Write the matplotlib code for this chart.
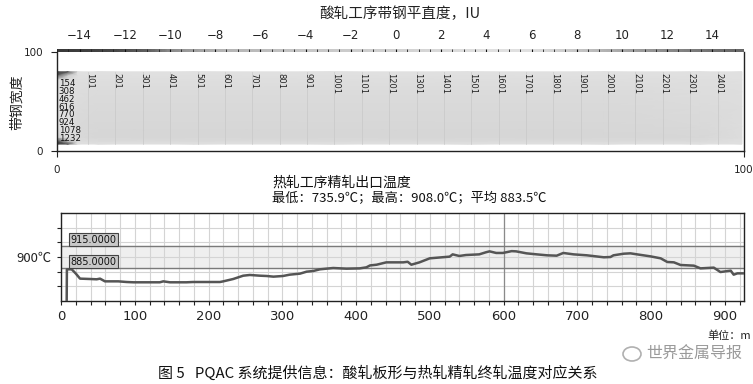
import numpy as np
import matplotlib
matplotlib.use("Agg")
import matplotlib.pyplot as plt
from matplotlib.colors import LinearSegmentedColormap
from matplotlib.patches import Ellipse

plt.rcParams['font.family'] = ['Noto Sans CJK SC', 'DejaVu Sans']
plt.rcParams['axes.unicode_minus'] = True

# ---------------- data ----------------
# colour scale of flatness (IU) -> grey level read from the strip
flat_scale_iu = [-15, -12.5, -11, -10, -8, -4, 0, 4, 6, 8, 10, 12, 14, 15.4]
flat_scale_grey = [0.22, 0.28, 0.38, 0.55, 0.70, 0.78, 0.82, 0.88, 0.88, 0.78, 0.66, 0.55, 0.45, 0.40]
flat_ticks = [-14, -12, -10, -8, -6, -4, -2, 0, 2, 4, 6, 8, 10, 12, 14]

# flatness map: sample index along strip length, relative width position
hm_samples = [0, 40, 75, 150, 500, 1000, 1500, 2000, 2350, 2500]
hm_width_pos = [7, 10, 14, 25, 45, 60, 72, 77, 80]
hm_values = [
    [-15, -12, 4, 4.5, 4.5, 4.5, 4.5, 4.5, 4.5, 5],
    [-13, -6, 3, 2.5, 2.5, 2.5, 2.5, 2.5, 2.5, 4],
    [0, 4, 2, 1.2, 1.2, 1.2, 1.2, 1.2, 1.5, 3],
    [5, 5, 2, 1.5, 1.5, 1.5, 1.5, 1.5, 2, 3],
    [5, 5, 2.5, 2, 2, 2, 2, 2, 2.5, 3],
    [5, 5, 3, 2.5, 2.5, 2.5, 2.5, 2.5, 3, 3.5],
    [3, 4, 3.5, 3.5, 3.5, 3.5, 3.5, 3.5, 3.5, 4],
    [-12, -4, 4.5, 4.5, 4.5, 4.5, 4.5, 4.5, 4.5, 5],
    [-15, -12, 5, 5, 5, 5, 5, 5, 5, 5],
]
sample_labels = [101, 201, 301, 401, 501, 601, 701, 801, 901, 1001, 1101, 1201,
                 1301, 1401, 1501, 1601, 1701, 1801, 1901, 2001, 2101, 2201, 2301, 2401]
width_labels = [154, 308, 462, 616, 770, 924, 1078, 1232]
total_samples = 2510

# finishing mill exit temperature
dist = [7, 8, 14.5, 20, 25.8, 39.3, 48.4, 52.9, 59.6, 77.7, 89, 98, 134, 138.7,
        147.7, 170, 179, 215.5, 220, 233.5, 247, 256, 270, 279, 288, 301, 310,
        324, 333, 342, 351, 369, 387, 405, 414, 419, 428, 441, 464, 470, 475,
        486, 500, 527, 531, 540, 549, 567, 576, 581, 590, 599, 611, 617, 631,
        645, 659, 672, 681, 695, 713, 736, 745, 749, 763, 772, 781, 799, 813,
        822, 831, 840, 858, 867, 885, 894, 908, 912, 917, 926]
temp = [735.9, 883.2, 883.2, 877.5, 870.5, 870, 869.6, 870.5, 866.8, 866.8,
        865.9, 865.5, 865.5, 866.8, 865.5, 865.5, 865.9, 865.9, 866.8, 870,
        874.5, 875.5, 874.5, 874.1, 873.2, 874.1, 875.9, 877.3, 880, 880.9,
        883.2, 885, 884.1, 884.5, 885.9, 888.5, 889.5, 892.7, 892.7, 893.5,
        889.5, 892.7, 898.2, 900.5, 903.6, 901.4, 902.7, 903.6, 906.4, 907.7,
        905.5, 905.5, 908.0, 907.7, 905, 903.6, 902.3, 901.8, 905.5, 903.6,
        902.3, 899.6, 900, 902.3, 904.5, 905, 903.6, 900.9, 898.2, 893.2,
        892.7, 889.1, 888.2, 884.5, 885.5, 879.5, 881.4, 875.9, 877.7, 877.7]
limit_values = [915.0, 885.0]
temp_xticks = [0, 100, 200, 300, 400, 500, 600, 700, 800, 900]

# ---------------- figure ----------------
W, H = 753, 384
fig = plt.figure(figsize=(W / 100, H / 100), dpi=100)
fig.patch.set_facecolor('white')

def fx(px):
    return px / W

def fy(py):
    return 1 - py / H

pos = [(v - flat_scale_iu[0]) / (flat_scale_iu[-1] - flat_scale_iu[0]) for v in flat_scale_iu]
cmap = LinearSegmentedColormap.from_list('flat', [(p, (g, g, g)) for p, g in zip(pos, flat_scale_grey)])
vmin, vmax = flat_scale_iu[0], flat_scale_iu[-1]

fig.text(fx(400), fy(14), "酸轧工序带钢平直度，IU", ha='center', va='center', fontsize=10.5, color='#222222')

# colour strip
cax = fig.add_axes([fx(57), fy(56), fx(687), 7 / H])
grad = np.linspace(vmin, vmax, 400).reshape(1, -1)
cax.imshow(grad, cmap=cmap, vmin=vmin, vmax=vmax, aspect='auto', extent=(vmin, vmax, 0, 1))
cax.set_xlim(vmin, vmax)
cax.set_yticks([])
cax.set_xticks(flat_ticks)
cax.set_xticklabels([("\u2212%d" % -t) if t < 0 else str(t) for t in flat_ticks],
                    fontsize=8.5, family='DejaVu Sans', color='#222222')
cax.set_xticks(np.arange(-15, 15.01, 0.5), minor=True)
cax.tick_params(axis='x', which='major', direction='in', length=4, width=0.8, top=True, bottom=False,
                labeltop=True, labelbottom=False, pad=5, color='#111111')
cax.tick_params(axis='x', which='minor', direction='in', length=2, width=0.6, top=True, bottom=False,
                color='#222222')
for s in cax.spines.values():
    s.set_visible(False)

# flatness map axes
ax1 = fig.add_axes([fx(57), fy(151), fx(687), 99 / H])
ax1.set_xlim(0, 100)
ax1.set_ylim(0, 100)
scale = 100 / total_samples
X = np.array(hm_samples) * scale
X[-1] = 99.7
Y = np.array(hm_width_pos)
XX, YY = np.meshgrid(X, Y)
ax1.pcolormesh(XX, YY, np.array(hm_values), cmap=cmap, vmin=vmin, vmax=vmax, shading='gouraud')
for s in sample_labels:
    ax1.axvline(s * scale + 0.5, ymin=0.07, ymax=0.8, color='#c8c8c8', lw=0.5, zorder=1.5)
    ax1.text(s * scale, 78.8, str(s), rotation=-90, ha='left', va='top', fontsize=6,
             family='DejaVu Sans', color='#222222')
for w in width_labels:
    ax1.text(0.25, 75.5 - w / 154 * 7.8, str(w), ha='left', va='center', fontsize=6.2,
             family='DejaVu Sans', color='#111111')
ax1.spines['top'].set_visible(False)
for k in ['left', 'bottom', 'right']:
    ax1.spines[k].set_color('#222222')
    ax1.spines[k].set_linewidth(1)
ax1.set_yticks([0, 100])
ax1.set_yticklabels(['0', '100'], fontsize=7.5, family='DejaVu Sans', color='#222222')
ax1.set_xticks([0, 100])
ax1.set_xticklabels(['0', '100'], fontsize=7.5, family='DejaVu Sans', color='#222222')
ax1.tick_params(axis='both', length=4, width=0.8, color='#222222', pad=6)
fig.text(fx(17), fy(102), "带钢宽度", rotation=90, ha='center', va='center', fontsize=10, color='#222222')

# temperature chart
fig.text(fx(272), fy(183), "热轧工序精轧出口温度", ha='left', va='center', fontsize=10, color='#111111')
fig.text(fx(272), fy(199), "最低：735.9℃；最高：908.0℃；平均 883.5℃", ha='left', va='center',
         fontsize=9.5, color='#111111')

ax2 = fig.add_axes([fx(61), fy(301), fx(683), 88 / H])
ax2.set_xlim(0, 926)
ax2.set_ylim(840, 960)
ax2.axhspan(limit_values[1], limit_values[0], color='#efefef', zorder=0)
for g in np.arange(0, 926, 20):
    ax2.axvline(g, color='#d4d4d4', lw=0.8, zorder=1)
for g in [860, 880, 900, 920, 940]:
    ax2.axhline(g, color='#d4d4d4', lw=0.8, zorder=1)
ax2.axvline(600, color='#8a8a8a', lw=0.9, zorder=1)
for lv in limit_values:
    ax2.axhline(lv, color='#7a7a7a', lw=1.0, zorder=2)
    ax2.text(12.5, lv + 1.5, "%.4f" % lv, ha='left', va='bottom', fontsize=7, family='DejaVu Sans',
             color='#111111', zorder=4,
             bbox=dict(boxstyle='square,pad=0.15', fc='#c8c8c8', ec='#444444', lw=0.8))
ax2.plot(dist, temp, color='#555555', lw=1.8, zorder=3, solid_joinstyle='round')
ax2.set_xticks(temp_xticks)
ax2.set_xticklabels([str(t) for t in temp_xticks], fontsize=9.5, family='DejaVu Sans', color='#222222')
ax2.set_xticks(np.arange(0, 926, 20), minor=True)
ax2.set_yticks([900])
ax2.set_yticklabels(['900℃'], fontsize=9.5, color='#222222')
ax2.set_yticks([860, 880, 920, 940], minor=True)
ax2.tick_params(axis='both', which='both', length=3, width=0.8, color='#222222')
for s in ax2.spines.values():
    s.set_color('#222222')
    s.set_linewidth(1)

fig.text(0.997, fy(336), "单位：m", ha='right', va='center', fontsize=8, color='#222222')
fig.add_artist(Ellipse((fx(632), fy(354)), 18 / W, 14 / H, fill=False, ec='#b0b0b0', lw=1.2,
                       transform=fig.transFigure))
fig.text(fx(646), fy(354), "世界金属导报", ha='left', va='center', fontsize=11.5, color='#9a9a9a')
fig.text(fx(378), fy(373), "图 5   PQAC 系统提供信息：酸轧板形与热轧精轧终轧温度对应关系",
         ha='center', va='center', fontsize=10.8, color='#111111')

fig.savefig("out.png", dpi=100, facecolor='white')
